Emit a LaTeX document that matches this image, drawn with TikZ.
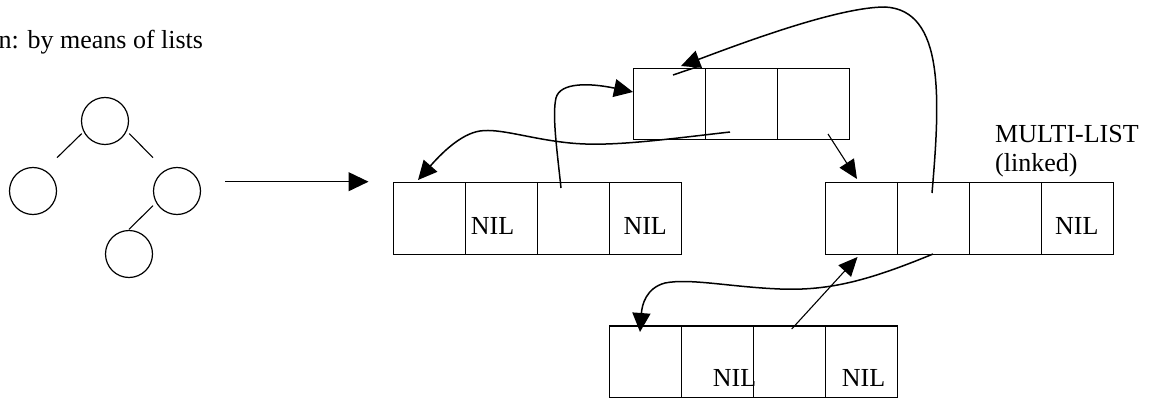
\documentclass[tikz,border=0pt]{standalone}
\usepackage{fontspec}
\setmainfont{Liberation Serif}
\usetikzlibrary{arrows.meta,calc}
\begin{document}
\begin{tikzpicture}[x=1pt,y=-1pt,
  cell/.style={draw,line width=1.2pt,minimum width=72pt,minimum height=72pt,inner sep=0pt,anchor=north west},
  vert/.style={draw,circle,line width=1.2pt,minimum size=47pt,inner sep=0pt},
  treeline/.style={line width=1.1pt},
  lbl/.style={inner sep=0pt,anchor=base west,font=\fontsize{26}{30}\selectfont},
  ptr/.style={line width=1.5pt,-{Triangle[length=19pt,width=18pt]}},
  thinptr/.style={line width=1.1pt,-{Triangle[length=19pt,width=17pt]}},
  bigptr/.style={line width=1.1pt,-{Triangle[length=20pt,width=19pt]}}
]
\useasboundingbox (0,0) rectangle (1158,398);

% title
\node[lbl] (title) at (-1.5,49) {n: by means of lists};

% tree
\node[vert] (root) at (105,121) {};
\node[vert] (lc) at (33,191) {};
\node[vert] (rc) at (177,191) {};
\node[vert] (bc) at (129,254) {};
\draw[treeline] ($(root)+(-23.3,12.6)$) -- ($(lc)+(24,-33.3)$);
\draw[treeline] ($(root)+(24.3,12.6)$) -- ($(rc)+(-24,-33.3)$);
\draw[treeline] ($(rc)+(-24,14.7)$) -- ($(bc)+(0,-24.7)$);

% list 1
\node[cell] (l1c1) at (393,182) {};
\node[cell] (l1c2) at (465,182) {};
\node[cell] (l1c3) at (537,182) {};
\node[cell] (l1c4) at (609,182) {};
\node[lbl] (nil1) at (470.7,234.3) {NIL};
\node[lbl] (nil2) at (623.3,234.3) {NIL};

% list 2
\node[cell,minimum height=71.6pt] (l2c1) at (632.7,67.7) {};
\node[cell,minimum height=71.6pt] (l2c2) at (704.7,67.7) {};
\node[cell,minimum height=71.6pt] (l2c3) at (776.7,67.7) {};

% list 3
\node[cell] (l3c1) at (825,182) {};
\node[cell] (l3c2) at (897,182) {};
\node[cell] (l3c3) at (969,182) {};
\node[cell] (l3c4) at (1041,182) {};
\node[lbl] (nil3) at (1055,234) {NIL};
\node[lbl] (ml1) at (995,142.3) {MULTI-LIST};
\node[lbl] (ml2) at (995,171.7) {(linked)};

% list 4
\node[cell,minimum height=71.5pt] (l4c1) at (609,325.3) {};
\node[cell,minimum height=71.5pt] (l4c2) at (681,325.3) {};
\node[cell,minimum height=71.5pt] (l4c3) at (753,325.3) {};
\node[cell,minimum height=71.5pt] (l4c4) at (825,325.3) {};
\node[lbl] (nil4) at (712.7,386.7) {NIL};
\node[lbl] (nil5) at (841.7,386.7) {NIL};

% big arrow
\coordinate (bigs) at (225,181.7);
\coordinate (bige) at ($(l1c1.north west)+(-24.5,-0.3)$);
\draw[bigptr] (bigs) -- (bige);

% pointer endpoints
\coordinate (a1s) at (561,188);
\coordinate (a1e) at (633,92);
\coordinate (a2s) at (730,132);
\coordinate (a2e) at (418,180);
\coordinate (a3s) at (932,193);
\coordinate (a3e) at (681,66);
\coordinate (a3x) at (701,65.5);
\coordinate (a3y) at (673,75);
\coordinate (a4s) at (828,134);
\coordinate (a4e) at (857,179);
\coordinate (a5s) at (933,254);
\coordinate (a5e) at (640,332);
\coordinate (a6s) at (791.7,329);
\coordinate (a6e) at (857.5,257);

\draw[ptr] (a1s) .. controls (557,150) and (552,115) .. (556,98)
  .. controls (560,82) and (590,83) .. (a1e);
\draw[ptr] (a2s) .. controls (660,140) and (610,147) .. (570,143)
  .. controls (530,139) and (500,128) .. (480,131)
  .. controls (460,134) and (440,155) .. (a2e);
\draw[ptr] (a3s) .. controls (940,100) and (945,10) .. (885,7)
  .. controls (840,7) and (750,40) .. (a3e);
\draw[line width=1.5pt] (a3x) -- (a3y);
\draw[thinptr] (a4s) -- (a4e);
\draw[ptr] (a5s) .. controls (870,280) and (830,291) .. (780,289)
  .. controls (730,287) and (690,278) .. (665,283)
  .. controls (646,288) and (642,305) .. (a5e);
\draw[thinptr] (a6s) -- (a6e);
\end{tikzpicture}
\end{document}
